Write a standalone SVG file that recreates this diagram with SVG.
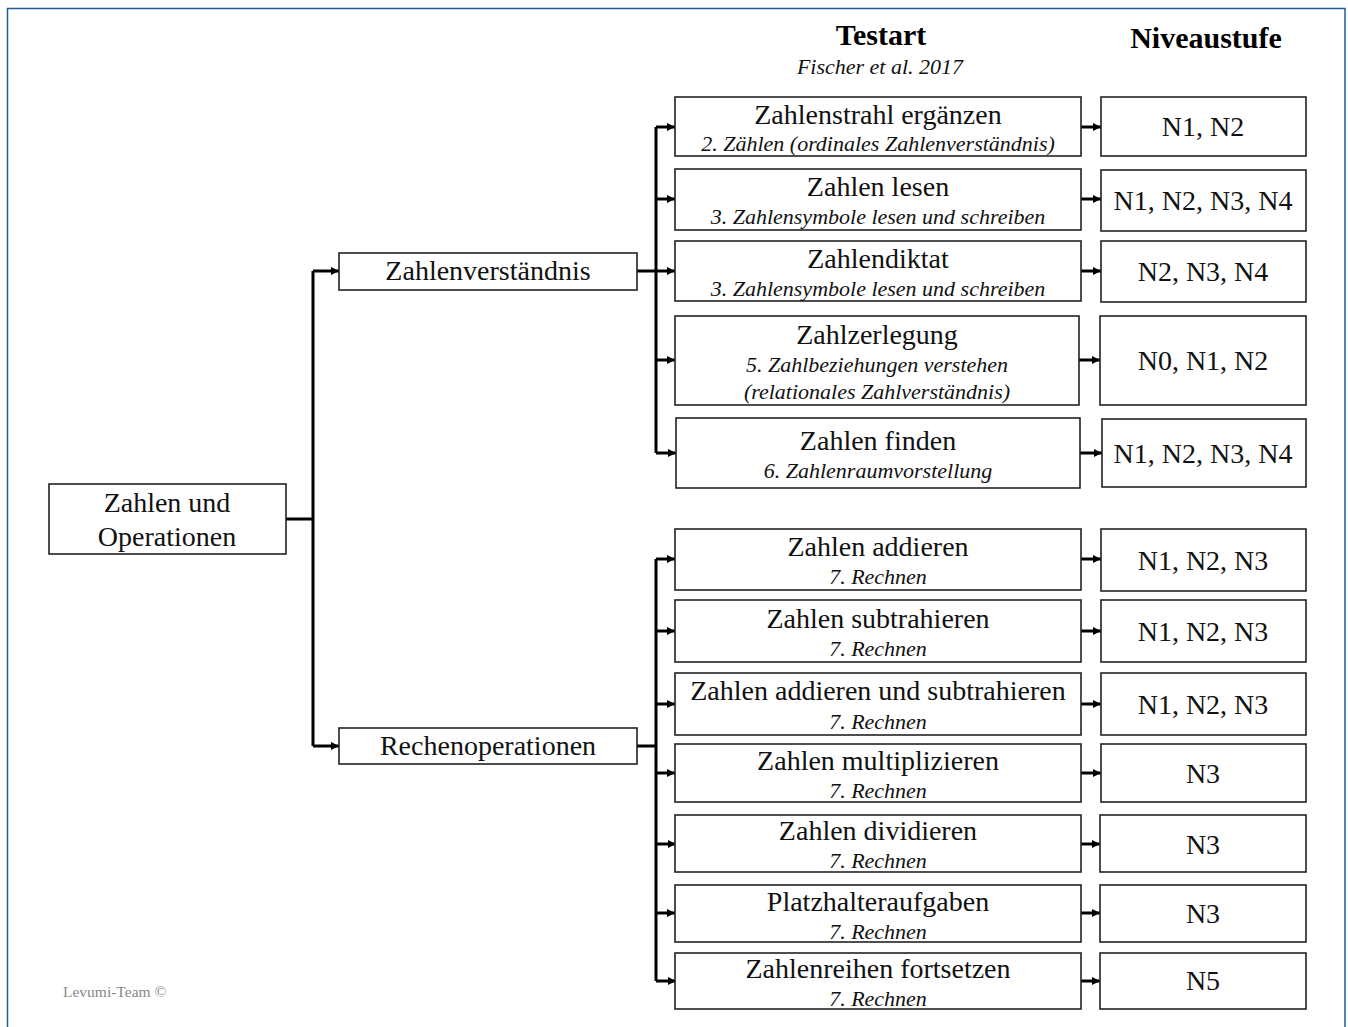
<svg xmlns="http://www.w3.org/2000/svg" width="1348" height="1027" viewBox="0 0 1348 1027">
<style>
.box{fill:#fff;stroke:#222;stroke-width:1.6}
.t{font-family:"Liberation Serif","Times New Roman",serif;font-size:28px;fill:#111;text-anchor:middle}
.s{font-family:"Liberation Serif","Times New Roman",serif;font-size:22px;font-style:italic;fill:#111;text-anchor:middle}
.h{font-family:"Liberation Serif","Times New Roman",serif;font-size:30px;font-weight:bold;fill:#000;text-anchor:middle}
.c{fill:none;stroke:#000;stroke-width:3}
</style>
<defs>
<marker id="ah" markerUnits="userSpaceOnUse" markerWidth="10" markerHeight="10" refX="8" refY="5" orient="auto">
<path d="M0,1 L8,5 L0,9 z" fill="#000"/>
</marker>
</defs>
<rect x="0" y="0" width="1348" height="1027" fill="#fff"/>
<rect x="7.5" y="8.5" width="1337.5" height="1040" fill="none" stroke="#1f5c99" stroke-width="1.5"/>

<g id="headers">
<text class="h" x="881" y="45">Testart</text>
<text class="s" x="880" y="74">Fischer et al. 2017</text>
<text class="h" x="1206" y="48">Niveaustufe</text>
</g>

<g id="connectors">
<path class="c" d="M286,519 H313 M313,271 V746"/>
<path class="c" d="M313,271 H339" marker-end="url(#ah)"/>
<path class="c" d="M313,746 H339" marker-end="url(#ah)"/>
<path class="c" d="M637,271 H656 M656,127 V453"/>
<path class="c" d="M656,127 H675" marker-end="url(#ah)"/>
<path class="c" d="M656,199 H675" marker-end="url(#ah)"/>
<path class="c" d="M656,271 H675" marker-end="url(#ah)"/>
<path class="c" d="M656,360 H675" marker-end="url(#ah)"/>
<path class="c" d="M656,453 H676" marker-end="url(#ah)"/>
<path class="c" d="M637,746 H656 M656,559 V981"/>
<path class="c" d="M656,559 H675" marker-end="url(#ah)"/>
<path class="c" d="M656,631 H675" marker-end="url(#ah)"/>
<path class="c" d="M656,704 H675" marker-end="url(#ah)"/>
<path class="c" d="M656,773 H675" marker-end="url(#ah)"/>
<path class="c" d="M656,844 H676" marker-end="url(#ah)"/>
<path class="c" d="M656,913 H675" marker-end="url(#ah)"/>
<path class="c" d="M656,981 H676" marker-end="url(#ah)"/>
<path class="c" d="M1081,127 H1101" marker-end="url(#ah)"/>
<path class="c" d="M1081,199 H1101" marker-end="url(#ah)"/>
<path class="c" d="M1081,271 H1101" marker-end="url(#ah)"/>
<path class="c" d="M1079,360 H1100" marker-end="url(#ah)"/>
<path class="c" d="M1080,453 H1102" marker-end="url(#ah)"/>
<path class="c" d="M1081,559 H1101" marker-end="url(#ah)"/>
<path class="c" d="M1081,631 H1101" marker-end="url(#ah)"/>
<path class="c" d="M1081,704 H1101" marker-end="url(#ah)"/>
<path class="c" d="M1081,773 H1101" marker-end="url(#ah)"/>
<path class="c" d="M1081,844 H1100" marker-end="url(#ah)"/>
<path class="c" d="M1081,913 H1100" marker-end="url(#ah)"/>
<path class="c" d="M1081,981 H1100" marker-end="url(#ah)"/>
</g>

<g id="root">
<rect class="box" x="49" y="484" width="237" height="70"/>
<text class="t" x="167" y="512">Zahlen und</text>
<text class="t" x="167" y="546">Operationen</text>
</g>
<g id="zahlenverstaendnis">
<rect class="box" x="339" y="253" width="298" height="37"/>
<text class="t" x="488" y="280">Zahlenverständnis</text>
</g>
<g id="rechenoperationen">
<rect class="box" x="339" y="728" width="298" height="36"/>
<text class="t" x="488" y="755">Rechenoperationen</text>
</g>

<g id="t1">
<rect class="box" x="675" y="97" width="406" height="59"/>
<text class="t" x="878" y="124">Zahlenstrahl ergänzen</text>
<text class="s" x="878" y="151">2. Zählen (ordinales Zahlenverständnis)</text>
</g>
<g id="n1"><rect class="box" x="1101" y="97" width="205" height="59"/><text class="t" x="1203" y="136">N1, N2</text></g>

<g id="t2">
<rect class="box" x="675" y="169" width="406" height="61"/>
<text class="t" x="878" y="196">Zahlen lesen</text>
<text class="s" x="878" y="224">3. Zahlensymbole lesen und schreiben</text>
</g>
<g id="n2"><rect class="box" x="1101" y="170" width="205" height="61"/><text class="t" x="1203" y="210">N1, N2, N3, N4</text></g>

<g id="t3">
<rect class="box" x="675" y="241" width="406" height="60"/>
<text class="t" x="878" y="268">Zahlendiktat</text>
<text class="s" x="878" y="296">3. Zahlensymbole lesen und schreiben</text>
</g>
<g id="n3"><rect class="box" x="1101" y="241" width="205" height="61"/><text class="t" x="1203" y="281">N2, N3, N4</text></g>

<g id="t4">
<rect class="box" x="675" y="316" width="404" height="89"/>
<text class="t" x="877" y="344">Zahlzerlegung</text>
<text class="s" x="877" y="372">5. Zahlbeziehungen verstehen</text>
<text class="s" x="877" y="399">(relationales Zahlverständnis)</text>
</g>
<g id="n4"><rect class="box" x="1100" y="316" width="206" height="89"/><text class="t" x="1203" y="370">N0, N1, N2</text></g>

<g id="t5">
<rect class="box" x="676" y="418" width="404" height="70"/>
<text class="t" x="878" y="450">Zahlen finden</text>
<text class="s" x="878" y="478">6. Zahlenraumvorstellung</text>
</g>
<g id="n5"><rect class="box" x="1102" y="419" width="204" height="68"/><text class="t" x="1203" y="463">N1, N2, N3, N4</text></g>

<g id="t6">
<rect class="box" x="675" y="529" width="406" height="61"/>
<text class="t" x="878" y="556">Zahlen addieren</text>
<text class="s" x="878" y="584">7. Rechnen</text>
</g>
<g id="n6"><rect class="box" x="1101" y="529" width="205" height="62"/><text class="t" x="1203" y="570">N1, N2, N3</text></g>

<g id="t7">
<rect class="box" x="675" y="600" width="406" height="62"/>
<text class="t" x="878" y="628">Zahlen subtrahieren</text>
<text class="s" x="878" y="656">7. Rechnen</text>
</g>
<g id="n7"><rect class="box" x="1101" y="600" width="205" height="62"/><text class="t" x="1203" y="641">N1, N2, N3</text></g>

<g id="t8">
<rect class="box" x="675" y="673" width="406" height="62"/>
<text class="t" x="878" y="700">Zahlen addieren und subtrahieren</text>
<text class="s" x="878" y="729">7. Rechnen</text>
</g>
<g id="n8"><rect class="box" x="1101" y="673" width="205" height="62"/><text class="t" x="1203" y="714">N1, N2, N3</text></g>

<g id="t9">
<rect class="box" x="675" y="744" width="406" height="58"/>
<text class="t" x="878" y="770">Zahlen multiplizieren</text>
<text class="s" x="878" y="798">7. Rechnen</text>
</g>
<g id="n9"><rect class="box" x="1101" y="744" width="205" height="58"/><text class="t" x="1203" y="783">N3</text></g>

<g id="t10">
<rect class="box" x="675" y="815" width="406" height="57"/>
<text class="t" x="878" y="840">Zahlen dividieren</text>
<text class="s" x="878" y="868">7. Rechnen</text>
</g>
<g id="n10"><rect class="box" x="1100" y="815" width="206" height="57"/><text class="t" x="1203" y="854">N3</text></g>

<g id="t11">
<rect class="box" x="675" y="885" width="406" height="57"/>
<text class="t" x="878" y="911">Platzhalteraufgaben</text>
<text class="s" x="878" y="939">7. Rechnen</text>
</g>
<g id="n11"><rect class="box" x="1100" y="885" width="206" height="57"/><text class="t" x="1203" y="923">N3</text></g>

<g id="t12">
<rect class="box" x="675" y="953" width="406" height="56"/>
<text class="t" x="878" y="978">Zahlenreihen fortsetzen</text>
<text class="s" x="878" y="1006">7. Rechnen</text>
</g>
<g id="n12"><rect class="box" x="1100" y="953" width="206" height="56"/><text class="t" x="1203" y="990">N5</text></g>

<text x="63" y="997" font-family="'Liberation Serif','Times New Roman',serif" font-size="15.5" fill="#888">Levumi-Team ©</text>
</svg>
